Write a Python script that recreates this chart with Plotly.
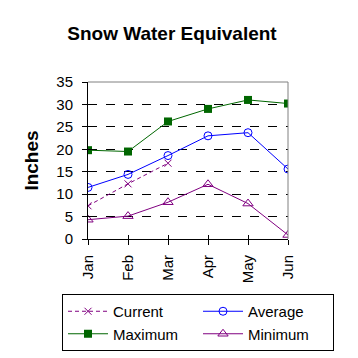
import plotly.graph_objects as go

months = ["Jan", "Feb", "Mar", "Apr", "May", "Jun"]
current = [7.4, 12.3, 16.9, None, None, None]
average = [11.5, 14.4, 18.6, 23.0, 23.7, 15.6]
maximum = [19.8, 19.5, 26.2, 29.0, 31.0, 30.2]
minimum = [4.3, 5.1, 8.2, 12.2, 7.9, 0.9]
yticks = [0, 5, 10, 15, 20, 25, 30, 35]

FONT = "Liberation Sans, Arial, sans-serif"
PURPLE = "#800080"
BLUE = "#0000ff"
GREEN = "#006600"

W, H = 350, 350  # page body has an 8px margin
OFF = 8

fig = go.Figure()
fig.add_trace(go.Scatter(x=months, y=current, name="Current", mode="lines+markers",
                         line=dict(color=PURPLE, width=1, dash="4px,3px"),
                         marker=dict(symbol="x-thin-open", size=7, color=PURPLE,
                                     line=dict(color=PURPLE, width=1))))
fig.add_trace(go.Scatter(x=months, y=average, name="Average", mode="lines+markers",
                         line=dict(color=BLUE, width=1),
                         marker=dict(symbol="circle-open", size=8, color=BLUE,
                                     line=dict(color=BLUE, width=1))))
fig.add_trace(go.Scatter(x=months, y=maximum, name="Maximum", mode="lines+markers",
                         line=dict(color=GREEN, width=1),
                         marker=dict(symbol="square", size=8, color=GREEN)))
fig.add_trace(go.Scatter(x=months, y=minimum, name="Minimum", mode="lines+markers",
                         line=dict(color=PURPLE, width=1),
                         marker=dict(symbol="triangle-up-open", size=9, color=PURPLE,
                                     line=dict(color=PURPLE, width=1))))

L, T, PW, PH = 88 - OFF, 82 - OFF, 200, 157
fig.update_layout(
    width=W, height=H,
    margin=dict(l=L, r=W - L - PW, t=T, b=H - T - PH, autoexpand=False),
    paper_bgcolor="white", plot_bgcolor="white",
    font=dict(family=FONT, color="black", size=15),
    title=dict(text="<b>Snow Water Equivalent</b>", x=(172 - OFF) / W, xanchor="center",
               y=1 - (33 - OFF) / H, yanchor="middle", font=dict(size=19)),
    xaxis=dict(type="category", range=[0, 5], showgrid=False, zeroline=False,
               showline=True, linecolor="black", linewidth=1,
               ticks="outside", ticklen=5, tickcolor="black", tickangle=-90,
               ticklabelstandoff=4, tickfont=dict(size=15)),
    yaxis=dict(range=[0, 35], tickvals=yticks, showgrid=True, gridcolor="black",
               griddash="dash", gridwidth=1, zeroline=False,
               showline=True, linecolor="black", linewidth=1,
               ticks="outside", ticklen=5, tickcolor="black",
               ticklabelstandoff=6, tickfont=dict(size=15),
               title=dict(text="<b>Inches</b>", font=dict(size=19), standoff=12)),
    showlegend=True,
    legend=dict(orientation="h",
                x=(62 - 88) / PW, xanchor="left",
                y=(239 - 294) / PH, yanchor="top",
                bordercolor="black", borderwidth=1, bgcolor="white",
                font=dict(size=15), entrywidth=80, tracegroupgap=0,
                itemwidth=40),
    shapes=[
        dict(type="line", xref="paper", yref="paper", x0=0, x1=1, y0=1, y1=1,
             line=dict(color="#808080", width=1)),
        dict(type="line", xref="paper", yref="paper", x0=1, x1=1, y0=0, y1=1,
             line=dict(color="#808080", width=1)),
    ],
)
# inside ticks to make crossing tick marks
fig.update_layout(
    xaxis2=dict(overlaying="x", matches="x", type="category", range=[0, 5],
                showgrid=False, zeroline=False, ticks="inside", ticklen=4,
                tickcolor="black", showticklabels=False, side="bottom",
                showline=False),
    yaxis2=dict(overlaying="y", range=[0, 35], tickvals=yticks, showgrid=False,
                zeroline=False, ticks="inside", ticklen=4, tickcolor="black",
                showticklabels=False, side="left", showline=False),
)
fig.add_trace(go.Scatter(x=months, y=[None] * 6, xaxis="x2", yaxis="y2",
                         showlegend=False, hoverinfo="skip"))

fig.write_html("out.html")
